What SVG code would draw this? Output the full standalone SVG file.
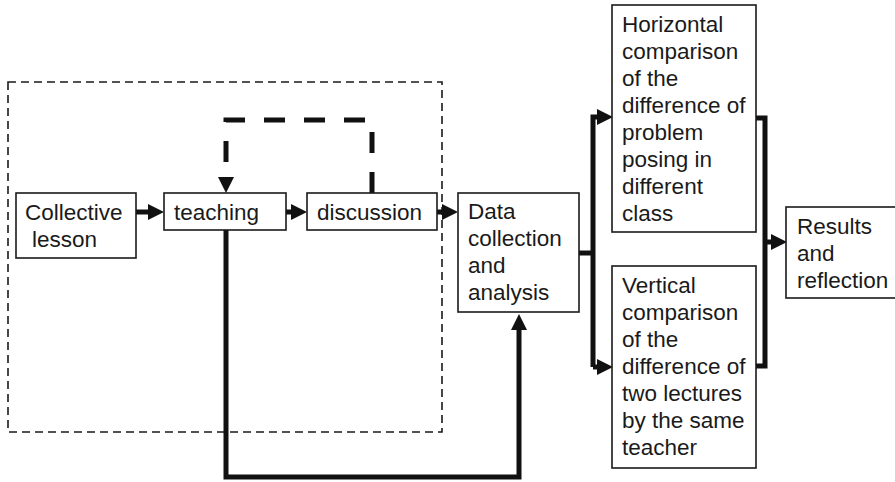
<svg xmlns="http://www.w3.org/2000/svg" width="895" height="482" viewBox="0 0 895 482">
  <style>
    .box { fill: #fff; stroke: #1a1a1a; stroke-width: 1.6; }
    .lbl { font-family: "Liberation Sans", Arial, sans-serif; font-size: 22.5px; fill: #1a1a1a; }
    .conn { fill: none; stroke: #111; stroke-width: 5; }
    .feedback { fill: none; stroke: #111; stroke-width: 5; stroke-dasharray: 21 19; }
    .frame { fill: none; stroke: #1a1a1a; stroke-width: 1.6; stroke-dasharray: 8 5; }
  </style>
  <defs>
    <marker id="head" markerUnits="userSpaceOnUse" markerWidth="17" markerHeight="17" refX="0" refY="8" orient="auto" overflow="visible">
      <path d="M0,0 L16,8 L0,16 z" fill="#111"/>
    </marker>
  </defs>
  <rect width="895" height="482" fill="#fff"/>

  <!-- dashed frame around the lesson cycle -->
  <rect id="cycle-frame" class="frame" x="8" y="82" width="434" height="350"/>

  <g id="connectors">
    <!-- main flow -->
    <line class="conn" x1="136" y1="212" x2="148" y2="212" marker-end="url(#head)"/>
    <line class="conn" x1="286" y1="212" x2="291" y2="212" marker-end="url(#head)"/>
    <line class="conn" x1="437" y1="212" x2="442" y2="212" marker-end="url(#head)"/>
    <!-- discussion feeds back into teaching -->
    <path class="feedback" d="M372,193 V120 H226 V177"/>
    <path d="M218,177 L234,177 L226,193 z" fill="#111"/>
    <!-- teaching down and round to data collection -->
    <path class="conn" d="M226,230 V477 H519 V330" marker-end="url(#head)"/>
    <!-- data collection splits to the two comparisons -->
    <path class="conn" d="M579,253 H593"/>
    <path class="conn" d="M593,367 V117 H597" marker-end="url(#head)"/>
    <line class="conn" x1="593" y1="367" x2="597" y2="367" marker-end="url(#head)"/>
    <!-- comparisons merge into results -->
    <path class="conn" d="M756,118 H765 V366 H756"/>
    <line class="conn" x1="765" y1="242" x2="771" y2="242" marker-end="url(#head)"/>
  </g>

  <g id="collective-lesson">
    <rect class="box" x="16" y="193" width="120" height="65"/>
    <text class="lbl" x="25" y="220">Collective</text>
    <text class="lbl" x="32" y="247">lesson</text>
  </g>

  <g id="teaching">
    <rect class="box" x="164" y="193" width="122" height="37"/>
    <text class="lbl" x="174" y="220">teaching</text>
  </g>

  <g id="discussion">
    <rect class="box" x="307" y="193" width="130" height="37"/>
    <text class="lbl" x="317" y="220">discussion</text>
  </g>

  <g id="data-collection">
    <rect class="box" x="458" y="193" width="121" height="119"/>
    <text class="lbl" x="468" y="219">Data</text>
    <text class="lbl" x="468" y="246">collection</text>
    <text class="lbl" x="468" y="273">and</text>
    <text class="lbl" x="468" y="300">analysis</text>
  </g>

  <g id="horizontal-comparison">
    <rect class="box" x="612" y="5" width="144" height="227"/>
    <text class="lbl" x="622" y="32">Horizontal</text>
    <text class="lbl" x="622" y="59">comparison</text>
    <text class="lbl" x="622" y="86">of the</text>
    <text class="lbl" x="622" y="113">difference of</text>
    <text class="lbl" x="622" y="140">problem</text>
    <text class="lbl" x="622" y="167">posing in</text>
    <text class="lbl" x="622" y="194">different</text>
    <text class="lbl" x="622" y="221">class</text>
  </g>

  <g id="vertical-comparison">
    <rect class="box" x="612" y="266" width="144" height="202"/>
    <text class="lbl" x="622" y="293">Vertical</text>
    <text class="lbl" x="622" y="320">comparison</text>
    <text class="lbl" x="622" y="347">of the</text>
    <text class="lbl" x="622" y="374">difference of</text>
    <text class="lbl" x="622" y="401">two lectures</text>
    <text class="lbl" x="622" y="428">by the same</text>
    <text class="lbl" x="622" y="455">teacher</text>
  </g>

  <g id="results">
    <rect class="box" x="786" y="207" width="112" height="91"/>
    <text class="lbl" x="797" y="234">Results</text>
    <text class="lbl" x="797" y="261">and</text>
    <text class="lbl" x="797" y="288">reflection</text>
  </g>
</svg>
